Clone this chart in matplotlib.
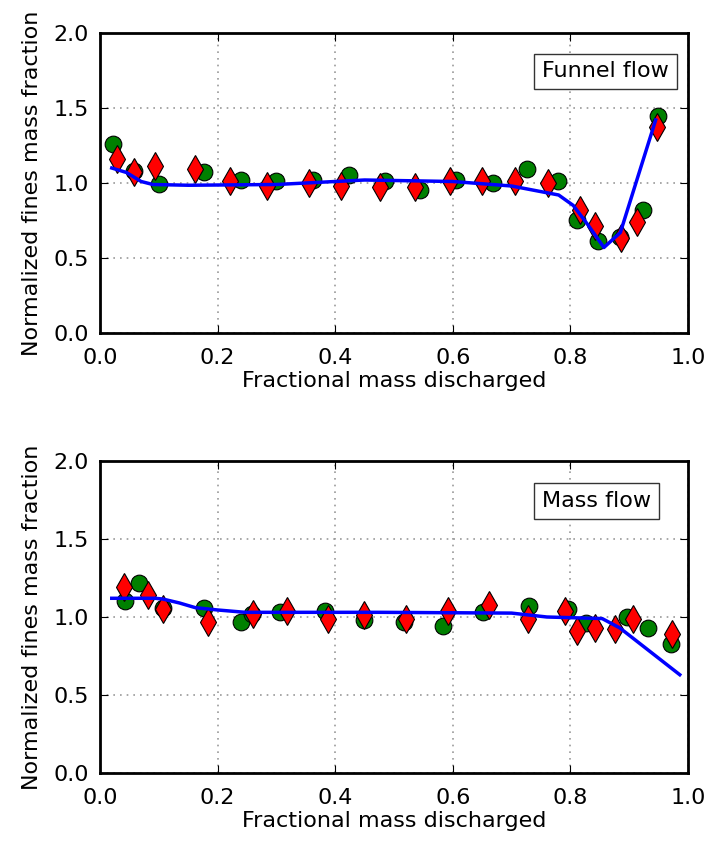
import numpy as np
import matplotlib
matplotlib.use("Agg")
import matplotlib.pyplot as plt

# --- Funnel flow data ---
funnel_circ_x = [0.022, 0.058, 0.10, 0.177, 0.24, 0.30, 0.362, 0.423, 0.485, 0.544,
                 0.605, 0.668, 0.726, 0.779, 0.811, 0.847, 0.884, 0.924, 0.949]
funnel_circ_y = [1.26, 1.08, 0.99, 1.07, 1.02, 1.01, 1.02, 1.05, 1.01, 0.95,
                 1.02, 1.00, 1.09, 1.01, 0.75, 0.61, 0.64, 0.82, 1.45]
funnel_diam_x = [0.029, 0.058, 0.094, 0.162, 0.221, 0.284, 0.355, 0.41, 0.476, 0.536,
                 0.595, 0.65, 0.706, 0.762, 0.816, 0.842, 0.886, 0.913, 0.947]
funnel_diam_y = [1.16, 1.07, 1.11, 1.09, 1.01, 0.98, 1.00, 0.98, 0.97, 0.97,
                 1.01, 1.01, 1.01, 1.00, 0.82, 0.71, 0.63, 0.74, 1.37]
funnel_line_x = [0.02, 0.045, 0.07, 0.09, 0.15, 0.3, 0.45, 0.6, 0.7, 0.78,
                 0.805, 0.83, 0.857, 0.885, 0.945]
funnel_line_y = [1.10, 1.07, 1.01, 0.99, 0.985, 0.99, 1.02, 1.01, 0.98, 0.92,
                 0.85, 0.72, 0.57, 0.67, 1.42]

# --- Mass flow data ---
mass_circ_x = [0.043, 0.066, 0.107, 0.177, 0.24, 0.259, 0.306, 0.383, 0.449,
               0.517, 0.584, 0.651, 0.73, 0.796, 0.826, 0.896, 0.932, 0.971]
mass_circ_y = [1.10, 1.22, 1.06, 1.06, 0.97, 1.02, 1.03, 1.04, 0.98,
               0.97, 0.94, 1.03, 1.07, 1.05, 0.96, 1.00, 0.93, 0.83]
mass_diam_x = [0.041, 0.082, 0.107, 0.184, 0.26, 0.318, 0.387, 0.449, 0.52,
               0.592, 0.662, 0.728, 0.791, 0.811, 0.842, 0.876, 0.906, 0.973]
mass_diam_y = [1.19, 1.14, 1.05, 0.97, 1.02, 1.04, 0.99, 1.01, 0.99,
               1.04, 1.08, 0.99, 1.04, 0.91, 0.93, 0.92, 0.99, 0.89]
mass_line_x = [0.02, 0.094, 0.107, 0.135, 0.162, 0.20, 0.247, 0.476, 0.70,
               0.76, 0.854, 0.884, 0.986]
mass_line_y = [1.12, 1.12, 1.115, 1.09, 1.06, 1.045, 1.03, 1.03, 1.025,
               1.00, 0.99, 0.93, 0.63]

fs = 16
fig = plt.figure(figsize=(7.07, 8.43), dpi=100)
ax1 = fig.add_axes([100/707, (843-333)/843, 588/707, 300/843])
ax2 = fig.add_axes([100/707, (843-773)/843, 588/707, 312/843])

panels = [
    (ax1, funnel_line_x, funnel_line_y, funnel_circ_x, funnel_circ_y,
     funnel_diam_x, funnel_diam_y, "Funnel flow"),
    (ax2, mass_line_x, mass_line_y, mass_circ_x, mass_circ_y,
     mass_diam_x, mass_diam_y, "Mass flow"),
]

for ax, lx, ly, cx, cy, dx, dy, name in panels:
    ax.plot(cx, cy, 'o', color='green', mec='black', mew=0.8, ms=12, zorder=3)
    ax.plot(dx, dy, 'd', color='red', mec='black', mew=0.8, ms=14, zorder=4)
    ax.plot(lx, ly, '-', color='blue', lw=2.5, zorder=5)
    ax.set_xlim(0, 1)
    ax.set_ylim(0, 2)
    ax.set_xticks(np.arange(0, 1.01, 0.2))
    ax.set_yticks(np.arange(0, 2.01, 0.5))
    ax.grid(True, color='#999999', linestyle=(0, (1, 3)), linewidth=1.2)
    ax.tick_params(direction='in', top=True, right=True, length=6,
                   labelsize=fs)
    ax.tick_params(axis='x', pad=11)
    ax.tick_params(axis='y', pad=8)
    for s in ax.spines.values():
        s.set_linewidth(2)
    ax.set_xlabel("Fractional mass discharged", fontsize=fs, labelpad=2)
    ax.set_ylabel("Normalized fines mass fraction", fontsize=fs, labelpad=8)
    ax.text(0.752, 0.872, name, transform=ax.transAxes, fontsize=fs,
            ha='left', va='center', zorder=6,
            bbox=dict(boxstyle='square,pad=0.35', fc='white', ec='#333333', lw=1))

fig.savefig("out.png", dpi=100)
